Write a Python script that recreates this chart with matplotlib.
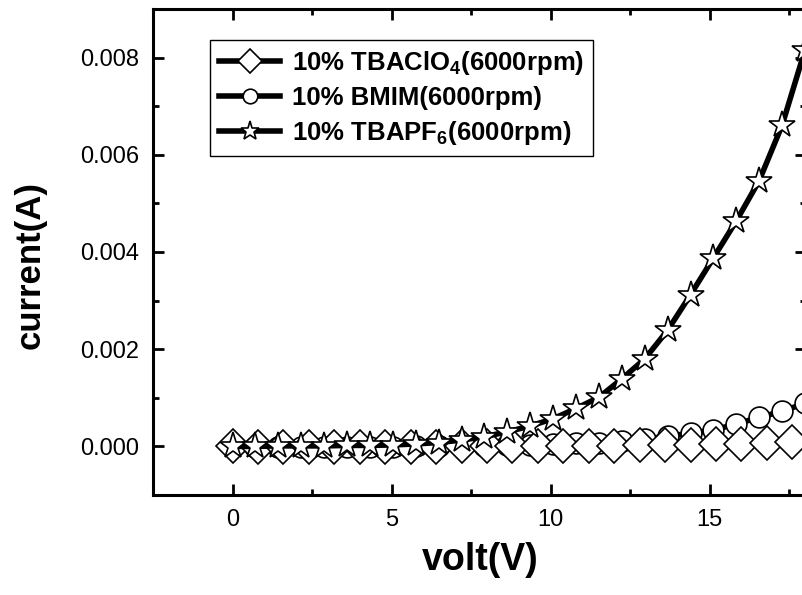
import numpy as np
import matplotlib
matplotlib.use("Agg")
import matplotlib.pyplot as plt
from matplotlib.ticker import MultipleLocator, FormatStrFormatter

plt.rcParams['font.family'] = ['Liberation Sans', 'DejaVu Sans']
plt.rcParams['mathtext.fontset'] = 'custom'
plt.rcParams['mathtext.rm'] = 'Liberation Sans:bold'
plt.rcParams['mathtext.bf'] = 'Liberation Sans:bold'

# ---- data ----
volt_tbaclo4 = [0.0, 0.8, 1.6, 2.4, 3.2, 4.0, 4.8, 5.6, 6.4, 7.2, 8.0, 8.8, 9.6,
                10.4, 11.2, 12.0, 12.8, 13.6, 14.4, 15.2, 16.0, 16.8, 17.6]
curr_tbaclo4 = [0.0, -0.00002, -0.00002, -0.00002, -0.00002, -0.00002, -0.00002,
                -0.00001, -0.00001, 0.0, 0.0, 0.0, 0.0, 0.0, 0.00001, 0.00001,
                0.00002, 0.00002, 0.00003, 0.00004, 0.00005, 0.00007, 0.00009]

volt_bmim = [0.0, 0.72, 1.44, 2.16, 2.88, 3.6, 4.32, 5.04, 5.76, 6.48, 7.2, 7.92,
             8.64, 9.36, 10.08, 10.8, 11.52, 12.24, 12.96, 13.68, 14.4, 15.12,
             15.84, 16.56, 17.28, 18.0]
curr_bmim = [0.0, -0.00001, -0.00001, -0.00001, -0.00001, -0.00001, -0.00001,
             -0.00001, 0.0, 0.0, 0.0, 0.00001, 0.00002, 0.00003, 0.00004, 0.00006,
             0.00008, 0.00011, 0.00015, 0.00021, 0.00027, 0.00034, 0.00046,
             0.0006, 0.00072, 0.00089]

volt_tbapf6 = [0.0, 0.72, 1.44, 2.16, 2.88, 3.6, 4.32, 5.04, 5.76, 6.48, 7.2, 7.92,
               8.64, 9.36, 10.08, 10.8, 11.52, 12.24, 12.96, 13.68, 14.4, 15.12,
               15.84, 16.56, 17.28, 18.0]
curr_tbapf6 = [0.0, 0.0, 0.00001, 0.00001, 0.00001, 0.00002, 0.00002, 0.00003,
               0.00005, 0.00008, 0.00013, 0.0002, 0.0003, 0.00042, 0.00057,
               0.00078, 0.00101, 0.00139, 0.0018, 0.00239, 0.00312, 0.00388,
               0.00464, 0.00547, 0.00661, 0.00816]

labels = [r"10% TBAClO$_\mathbf{4}$(6000rpm)",
          "10% BMIM(6000rpm)",
          r"10% TBAPF$_\mathbf{6}$(6000rpm)"]

# ---- figure ----
W, H = 802, 595
fig = plt.figure(figsize=(W / 100, H / 100), dpi=100)
left_px, right_px, top_px, bot_px = 153, 806, 9, 495
ax = fig.add_axes([left_px / W, 1 - bot_px / H, (right_px - left_px) / W,
                   (bot_px - top_px) / H])

lw = 4.0
h2, = ax.plot(volt_bmim, curr_bmim, color='black', lw=lw, marker='o', ms=15,
              mfc='white', mec='black', mew=1.2, zorder=2)
h1, = ax.plot(volt_tbaclo4, curr_tbaclo4, color='black', lw=lw, marker='D', ms=17,
              mfc='white', mec='black', mew=1.2, zorder=3)
h3, = ax.plot(volt_tbapf6, curr_tbapf6, color='black', lw=lw, marker='*', ms=20,
              mfc='white', mec='black', mew=1.2, zorder=4)

ax.set_xlim(-2.5, 18.03)
ax.set_ylim(-0.001, 0.009)
ax.xaxis.set_major_locator(MultipleLocator(5))
ax.xaxis.set_minor_locator(MultipleLocator(2.5))
ax.yaxis.set_major_locator(MultipleLocator(0.002))
ax.yaxis.set_minor_locator(MultipleLocator(0.001))
ax.yaxis.set_major_formatter(FormatStrFormatter('%.3f'))

ax.tick_params(which='both', direction='in', top=True, right=True)
ax.tick_params(which='major', length=8, width=2, labelsize=17, pad=10)
ax.tick_params(which='minor', length=4.5, width=2)
for s in ax.spines.values():
    s.set_linewidth(2.2)

ax.set_xlabel("volt(V)", fontsize=27, fontweight='bold')
ax.set_ylabel("current(A)", fontsize=25, fontweight='bold')
ax.xaxis.set_label_coords((480 - left_px) / (right_px - left_px),
                          -(560 - bot_px) / (bot_px - top_px))
ax.yaxis.set_label_coords(-(153 - 30) / (right_px - left_px),
                          (bot_px - 265) / (bot_px - top_px))
ax.xaxis.label.set_va('center')
ax.yaxis.label.set_va('center')

leg = ax.legend([h1, h2, h3], labels, loc='upper left',
                bbox_to_anchor=(0.087, 0.937), borderaxespad=0,
                prop={'size': 18.5, 'weight': 'bold'}, fancybox=False,
                edgecolor='black', framealpha=1, handlelength=2.4,
                handletextpad=0.45, labelspacing=0.35, borderpad=0.35,
                markerscale=0.7)
leg.get_frame().set_linewidth(1.0)

fig.savefig("out.png", dpi=100)
